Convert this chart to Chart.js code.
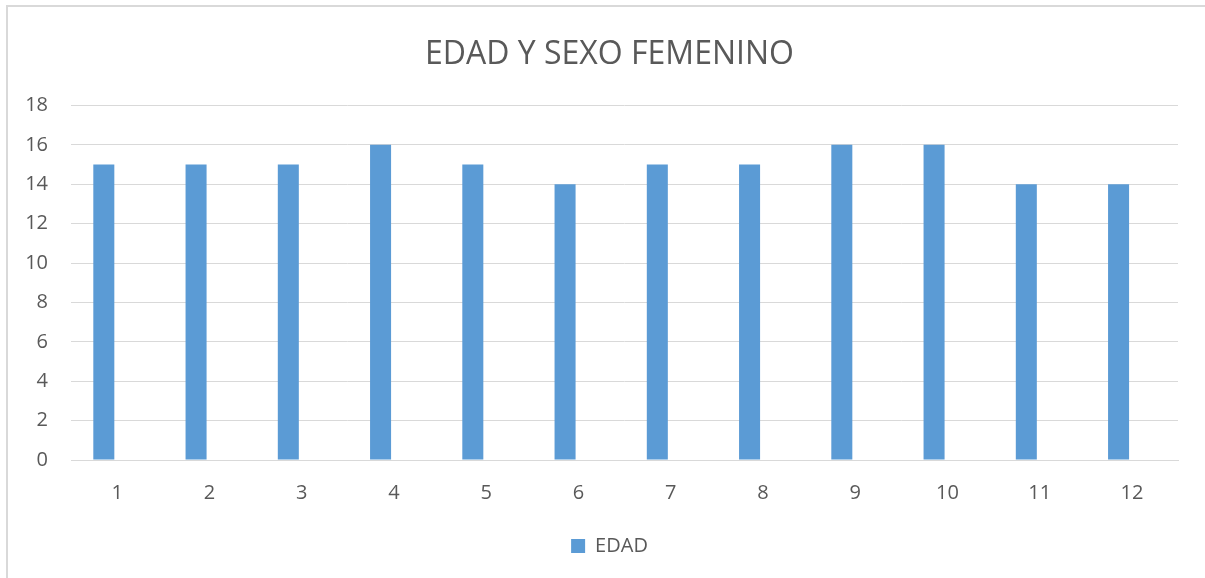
<!DOCTYPE html>
<html>
    <head>
        <meta charset="utf-8">
        <title>EDAD Y SEXO FEMENINO</title>
        <script src="https://cdn.jsdelivr.net/npm/chart.js@4.4.0/dist/chart.umd.min.js"></script>
        <style>
            body { margin: 0; background: #fff; overflow: hidden; }
            #frame {
                position: absolute; left: 6px; top: 5px;
                width: 1300px; height: 700px;
                border-left: 2px solid #d9d9d9;
                border-top: 2px solid #d9d9d9;
            }
            #chart { position: absolute; left: 0; top: 0; }
        </style>
    </head>
    <body>
        <div id="frame"></div>
        <canvas id="chart" width="1205" height="578"></canvas>

        <script>
            const categorias = ['1', '2', '3', '4', '5', '6', '7', '8', '9', '10', '11', '12'];
            const edad = [15, 15, 15, 16, 15, 14, 15, 15, 16, 16, 14, 14];
            // second series (SEXO) has no numeric values, it only takes space next to each bar
            const sexo = [null, null, null, null, null, null, null, null, null, null, null, null];
            const yTicks = [0, 2, 4, 6, 8, 10, 12, 14, 16, 18];

            const gris = '#595959';
            const azul = '#5b9bd5';
            const fuente = "'Open Sans', sans-serif";

            const ctx = document.getElementById('chart').getContext('2d');
            const myChart = new Chart(ctx, {
                type: 'bar',
                data: {
                    labels: categorias,
                    datasets: [{
                        label: 'EDAD',
                        data: edad,
                        backgroundColor: azul,
                        borderWidth: 0,
                        categoryPercentage: 0.577,
                        barPercentage: 0.79
                    }, {
                        label: 'SEXO',
                        data: sexo,
                        backgroundColor: '#ed7d31',
                        categoryPercentage: 0.577,
                        barPercentage: 0.79
                    }]
                },
                options: {
                    responsive: false,
                    animation: false,
                    layout: { padding: { left: 14, right: 0, top: 0, bottom: 12 } },
                    plugins: {
                        title: {
                            display: true,
                            text: 'EDAD Y SEXO FEMENINO',
                            color: gris,
                            font: { family: fuente, size: 32, weight: 'normal' },
                            padding: { top: 36, bottom: 31 }
                        },
                        legend: {
                            position: 'bottom',
                            labels: {
                                filter: item => item.text === 'EDAD',
                                color: gris,
                                font: { family: fuente, size: 20 },
                                boxWidth: 14,
                                boxHeight: 14,
                                padding: 10
                            }
                        },
                        tooltip: { enabled: false }
                    },
                    scales: {
                        x: {
                            grid: { display: false },
                            border: { display: true, color: '#d9d9d9', width: 1 },
                            ticks: {
                                color: gris,
                                font: { family: fuente, size: 20 },
                                padding: 13
                            },
                            afterFit: axis => { axis.height = 66; }
                        },
                        y: {
                            min: 0,
                            max: 18,
                            afterBuildTicks: axis => { axis.ticks = yTicks.map(v => ({ value: v })); },
                            grid: { color: '#d9d9d9', lineWidth: 1, drawTicks: false },
                            border: { display: false },
                            ticks: {
                                color: gris,
                                font: { family: fuente, size: 20 },
                                padding: 23
                            },
                            afterFit: axis => { axis.width = 57; }
                        },
                        // empty right margin so title and legend sit centred like the original
                        margen: {
                            type: 'linear',
                            position: 'right',
                            grid: { display: false },
                            border: { display: false },
                            ticks: { display: false },
                            afterFit: axis => { axis.width = 27; }
                        }
                    }
                }
            });
        </script>
    </body>
</html>
